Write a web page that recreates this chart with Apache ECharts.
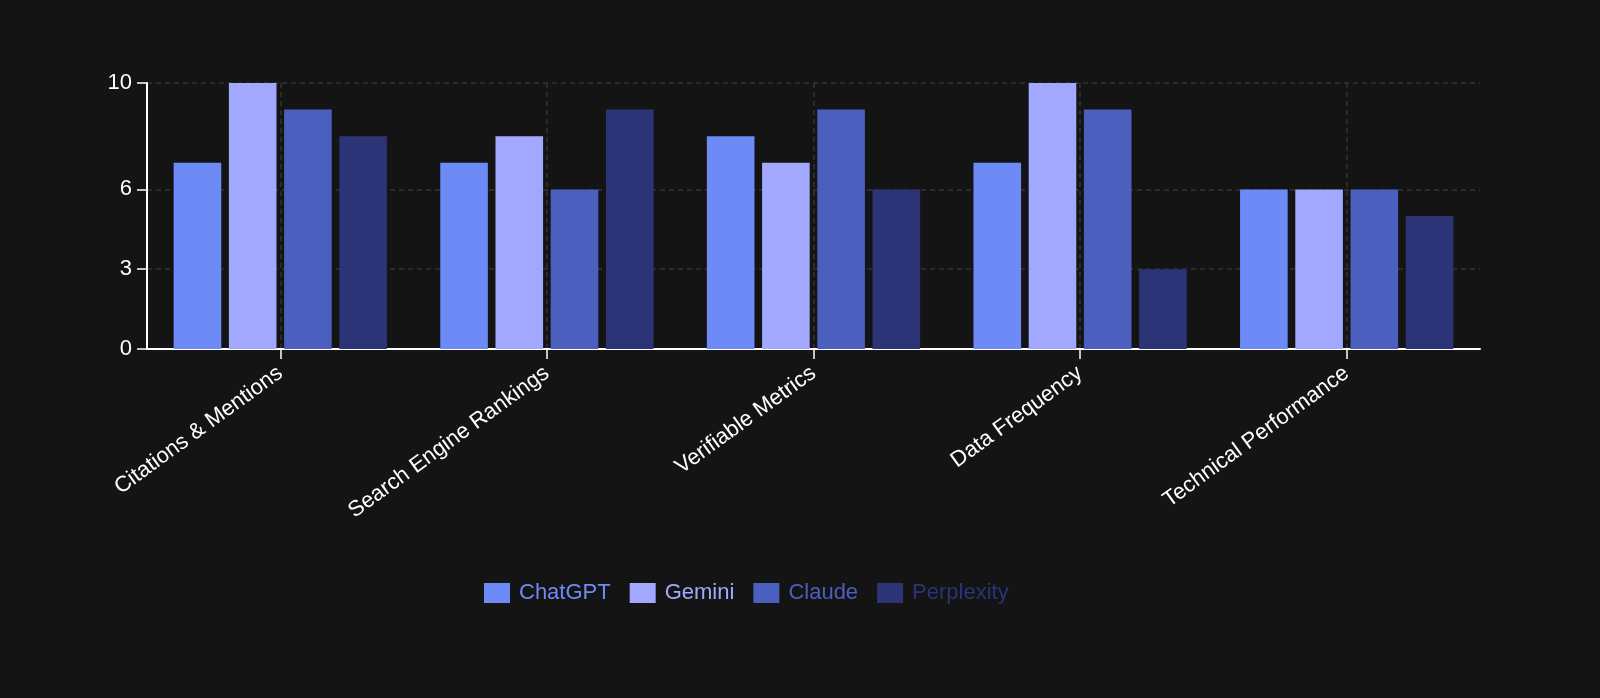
<!DOCTYPE html>
<html>
<head>
<meta charset="utf-8">
<script src="https://cdn.jsdelivr.net/npm/echarts@6/dist/echarts.min.js"></script>
<style>
html,body{margin:0;padding:0;background:#141414;}
#chart{width:1600px;height:698px;}
</style>
</head>
<body>
<div id="chart"></div>
<script>
const categories = ['Citations & Mentions', 'Search Engine Rankings', 'Verifiable Metrics', 'Data Frequency', 'Technical Performance'];
const chatgpt = [7, 7, 8, 7, 6];
const gemini = [10, 8, 7, 10, 6];
const claude = [9, 6, 9, 9, 6];
const perplexity = [8, 9, 6, 3, 5];
const yTicks = [0, 3, 6, 10];

const seriesNames = ['ChatGPT', 'Gemini', 'Claude', 'Perplexity'];
const seriesData = [chatgpt, gemini, claude, perplexity];
const colors = ['#6e8af7', '#a3a8ff', '#4b5fbf', '#2c3477'];
const FONT = '"Liberation Sans", Arial, Helvetica, sans-serif';

const chart = echarts.init(document.getElementById('chart'));
chart.setOption({
  backgroundColor: '#141414',
  animation: false,
  grid: { left: 147, right: 120, top: 83, bottom: 349, containLabel: false },
  legend: {
    left: 479,
    top: 577,
    itemWidth: 26,
    itemHeight: 20,
    itemGap: 19,
    icon: 'rect',
    textStyle: { fontFamily: FONT, fontSize: 22, padding: [0, 0, 0, 4] },
    data: seriesNames.map((n, i) => ({ name: n, textStyle: { color: colors[i] } }))
  },
  xAxis: {
    type: 'category',
    data: categories,
    boundaryGap: true,
    axisLine: { lineStyle: { color: '#ffffff', width: 2 } },
    axisTick: { show: true, alignWithLabel: true, length: 10, lineStyle: { color: '#ffffff', width: 1.5 } },
    axisLabel: { color: '#ffffff', fontFamily: FONT, fontSize: 22, rotate: 36, margin: 22, interval: 0 },
    splitLine: { show: true, alignWithLabel: true, lineStyle: { color: '#333333', type: [5, 4], width: 1.5 } }
  },
  yAxis: {
    type: 'value',
    min: 0,
    max: 10,
    axisLine: { show: true, lineStyle: { color: '#ffffff', width: 2 } },
    axisTick: { show: true, length: 10, customValues: yTicks, lineStyle: { color: '#ffffff', width: 1.5 } },
    axisLabel: { color: '#ffffff', fontFamily: FONT, fontSize: 22, margin: 15, customValues: yTicks },
    splitLine: { show: true, lineStyle: { color: '#333333', type: [5, 4], width: 1.5 } }
  },
  series: seriesNames.map((n, i) => ({
    name: n,
    type: 'bar',
    data: seriesData[i],
    barCategoryGap: '20%',
    barGap: '16%',
    itemStyle: { color: colors[i] }
  }))
});
</script>
</body>
</html>
